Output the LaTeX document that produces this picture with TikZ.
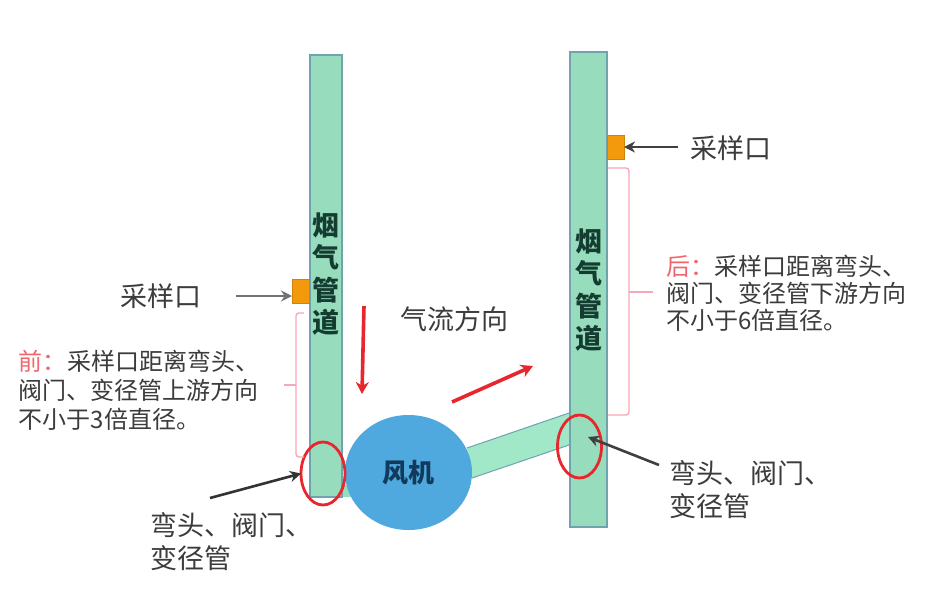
\documentclass[tikz,border=0pt]{standalone}
\usepackage{fontspec}
\setmainfont{Noto Sans CJK SC}
\usetikzlibrary{arrows.meta,shapes.geometric}
\definecolor{ductfill}{HTML}{97DCBC}
\definecolor{linkfill}{HTML}{A0E8C8}
\definecolor{ductline}{HTML}{6FA3AE}
\definecolor{fanfill}{HTML}{4FA8DE}
\definecolor{portfill}{HTML}{F39A0C}
\definecolor{txtgray}{HTML}{3C3C3C}
\definecolor{bracepink}{HTML}{F6A8B8}
\definecolor{redmark}{HTML}{E8262D}
\definecolor{fantext}{HTML}{123A5C}
\definecolor{ducttext}{HTML}{143C30}
\tikzset{
  duct/.style={rectangle,draw=ductline,fill=ductfill,line width=1.2pt,inner sep=0pt,outer sep=0pt},
  port/.style={rectangle,fill=portfill,draw=portfill!85!black,line width=.4pt,minimum width=17pt,minimum height=24pt,inner sep=0pt,outer sep=0pt},
  fanball/.style={ellipse,fill=fanfill,minimum width=127pt,minimum height=115pt,inner sep=0pt,outer sep=0pt,text=fantext,font=\fontsize{26}{30}\selectfont\bfseries},
  ring/.style={ellipse,draw=redmark,line width=2.8pt,minimum width=44pt,minimum height=63pt,inner sep=0pt,outer sep=0pt},
  label/.style={text=txtgray,inner sep=0pt,outer sep=0pt,anchor=west,align=left},
  vlabel/.style={text=ducttext,inner sep=0pt,outer sep=0pt,align=center,font=\fontsize{27}{32.3}\selectfont\bfseries},
  greyarrow/.style={draw=#1,line width=2.6pt,-{Stealth[length=11pt,width=11pt]}},
  redarrow/.style={draw=redmark,line width=3.6pt,-{Stealth[length=12pt,width=13pt]}},
  bracket/.style={draw=bracepink,line width=1.4pt,rounded corners=3pt},
}
\begin{document}
\begin{tikzpicture}[x=1pt,y=-1pt]
\useasboundingbox (0,0) rectangle (926,603);
\fill[white] (0,0) rectangle (926,603);
% connecting duct
\coordinate (la) at (467,448);
\coordinate (lb) at (569,413);
\coordinate (lc) at (569,445);
\coordinate (ld) at (472,478);
\fill[linkfill] (la) -- (lb) -- (lc) -- (ld) -- cycle;
\draw[draw=ductline,line width=1pt] (la) -- (lb) (ld) -- (lc);
% ducts
\coordinate (heel1) at (340,485);
\coordinate (heel2) at (365,497);
\fill[ductfill] (heel1) rectangle (heel2);
\node[duct,minimum width=32pt,minimum height=442pt] (ductL) at (326,276) {};
\node[duct,minimum width=37pt,minimum height=475pt] (ductR) at (588.5,289.5) {};
\node[vlabel] (vL) at (326,274) {烟\\气\\管\\道};
\node[vlabel] (vR) at (588.5,290) {烟\\气\\管\\道};
% ports
\node[port] (portL) at (300.5,291) {};
\node[port] (portR) at (615.5,147) {};
% fan
\node[fanball] (fan) at (408.5,472.5) {风机};
% rings
\node[ring] (ringL) at (323,473.5) {};
\node[ring] (ringR) at (579.5,446.5) {};
% labels
\node[label,font=\fontsize{27}{30}\selectfont] (sampL) at (120,296) {采样口};
\node[label,font=\fontsize{27}{30}\selectfont] (sampR) at (690,148) {采样口};
\node[label,font=\fontsize{27}{30}\selectfont] (flow) at (400,319) {气流方向};
\node[label,font=\fontsize{24}{29}\selectfont] (noteL) at (19,390) {\textcolor{redmark!70!white}{前：}采样口距离弯头、\\阀门、变径管上游方向\\不小于3倍直径。};
\node[label,font=\fontsize{24}{27}\selectfont] (noteR) at (666,293) {\textcolor{redmark!70!white}{后：}采样口距离弯头、\\阀门、变径管下游方向\\不小于6倍直径。};
\node[label,font=\fontsize{27}{33}\selectfont] (bendL) at (150,542) {弯头、阀门、\\变径管};
\node[label,font=\fontsize{27}{33}\selectfont] (bendR) at (669,490) {弯头、阀门、\\变径管};
% arrows
\coordinate (aL) at (236,296);
\coordinate (aR) at (678,147);
\coordinate (bL) at (210,498);
\coordinate (bR) at (659,465);
\coordinate (bRt) at (588,437);
\coordinate (r1) at (364,306);
\coordinate (r1e) at (362,394);
\coordinate (r2) at (452,402);
\coordinate (r2e) at (533,366);
\draw[greyarrow=black!55] (aL) -- (portL.west |- aL);
\draw[greyarrow=black!75] (aR) -- (portR.east |- aR);
\draw[greyarrow=black!80] (bL) -- (ringL.west);
\draw[greyarrow=black!75] (bR) -- (bRt);
\draw[redarrow] (r1) -- (r1e);
\draw[redarrow] (r2) -- (r2e);
% braces
\coordinate (bl1) at (304,313);
\coordinate (bl2) at (296,313);
\coordinate (bl3) at (296,457);
\coordinate (bl4) at (304,457);
\coordinate (bl5) at (296,385);
\coordinate (bl6) at (284,385);
\draw[bracket] (bl1) -- (bl2) -- (bl3) -- (bl4);
\draw[bracket] (bl5) -- (bl6);
\coordinate (br1) at (608,168);
\coordinate (br2) at (629,168);
\coordinate (br3) at (629,415);
\coordinate (br4) at (608,415);
\coordinate (br5) at (629,292);
\coordinate (br6) at (653,292);
\draw[bracket] (br1) -- (br2) -- (br3) -- (br4);
\draw[bracket] (br5) -- (br6);
\end{tikzpicture}
\end{document}
